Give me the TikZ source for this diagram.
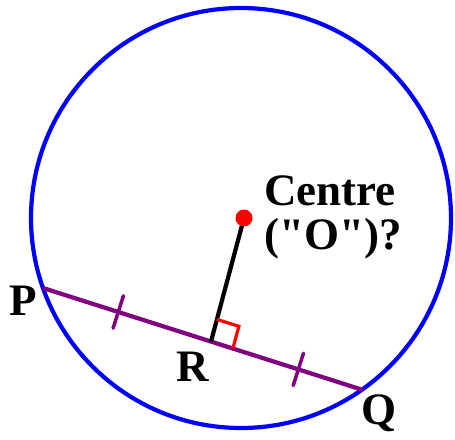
\documentclass[tikz,border=0pt]{standalone}
\usepackage{fontspec}
\newfontfamily\lfont{Liberation Serif}
\usetikzlibrary{calc}
\begin{document}
\begin{tikzpicture}[x=1pt,y=-1pt,
  lbl/.style={font=\lfont\fontsize{45}{50}\selectfont\bfseries, inner sep=0pt, anchor=base west},
  tickmark/.style={draw=purple, line width=3.5pt, line cap=round}]
\definecolor{purple}{RGB}{128,0,128}
\useasboundingbox (0,0) rectangle (455,439);
\coordinate (C) at (241,218);
\draw[blue, line width=4.2pt] (C) circle[radius=210];
\coordinate (P) at (43,288);
\coordinate (Q) at (363,390);
\coordinate (O) at (244,218);
\coordinate (R) at ($(P)!0.525!(Q)$);
\draw[purple, line width=4.2pt] (P) -- (Q);
\coordinate (T1) at ($(P)!79pt!(Q)$);
\coordinate (T2) at ($(P)!268pt!(Q)$);
\draw[tickmark] ($(T1)!17pt!90:(Q)$) -- ($(T1)!17pt!-90:(Q)$);
\draw[tickmark] ($(T2)!17pt!90:(Q)$) -- ($(T2)!17pt!-90:(Q)$);
\draw[black, line width=4.2pt] (O) -- (R);
\coordinate (Sa) at ($(R)!23pt!(Q)$);
\coordinate (Sb) at ($(R)!23pt!(O)$);
\draw[red, line width=3.2pt] (Sb) -- ($(Sa)+(Sb)-(R)$) -- (Sa);
\fill[red] (O) circle[radius=8.5];
\node[lbl] (pl) at (9,315) {P};
\node[lbl] (rl) at (176,381) {R};
\node[lbl] (ql) at (361,424) {Q};
\node[lbl] (c1) at (264,205) {Centre};
\node[lbl] (c2) at (264,249) {(\symbol{34}O\symbol{34})?};
\end{tikzpicture}
\end{document}
